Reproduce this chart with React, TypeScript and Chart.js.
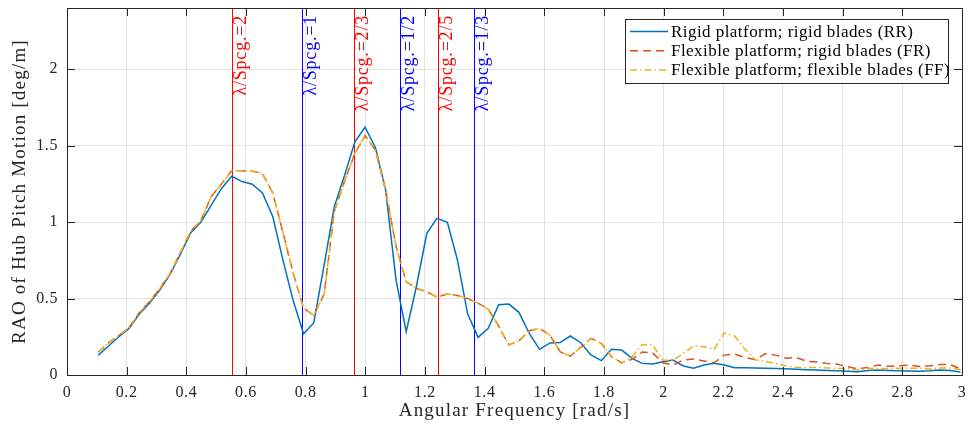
import React, { useEffect, useRef } from 'react';
import { Chart, registerables } from 'chart.js';

Chart.register(...registerables);

// Angular frequency samples [rad/s]
const freq = [
  0.105, 0.139, 0.174, 0.208, 0.243, 0.277, 0.311, 0.346, 0.380, 0.415,
  0.449, 0.483, 0.518, 0.552, 0.587, 0.621, 0.655, 0.690, 0.724, 0.759,
  0.793, 0.827, 0.862, 0.896, 0.931, 0.965, 0.999, 1.034, 1.068, 1.103,
  1.137, 1.171, 1.206, 1.240, 1.275, 1.309, 1.343, 1.378, 1.412, 1.447,
  1.481, 1.515, 1.550, 1.584, 1.619, 1.653, 1.687, 1.722, 1.756, 1.791,
  1.825, 1.859, 1.894, 1.928, 1.963, 1.997, 2.031, 2.066, 2.100, 2.135,
  2.169, 2.203, 2.238, 2.272, 2.307, 2.341, 2.375, 2.410, 2.444, 2.479,
  2.513, 2.547, 2.582, 2.616, 2.651, 2.685, 2.719, 2.754, 2.788, 2.823,
  2.857, 2.891, 2.926, 2.960, 2.995,
];

// Rigid platform; rigid blades (RR)
const raoRR = [
  0.13, 0.19, 0.25, 0.305, 0.40, 0.47, 0.555, 0.66, 0.79, 0.93,
  1.00, 1.11, 1.22, 1.30, 1.265, 1.248, 1.19, 1.035, 0.75, 0.48,
  0.27, 0.34, 0.72, 1.10, 1.31, 1.525, 1.62, 1.486, 1.21, 0.62,
  0.283, 0.577, 0.926, 1.024, 0.998, 0.75, 0.40, 0.246, 0.305, 0.46,
  0.464, 0.41, 0.27, 0.168, 0.21, 0.212, 0.255, 0.211, 0.131, 0.094,
  0.168, 0.163, 0.109, 0.076, 0.072, 0.087, 0.098, 0.059, 0.044, 0.065,
  0.076, 0.065, 0.048, 0.048, 0.046, 0.044, 0.042, 0.041, 0.038, 0.035,
  0.033, 0.030, 0.028, 0.025, 0.022, 0.030, 0.033, 0.030, 0.028, 0.026,
  0.025, 0.028, 0.033, 0.030, 0.020,
];

// Flexible platform; rigid blades (FR)
const raoFR = [
  0.15, 0.21, 0.26, 0.31, 0.41, 0.48, 0.565, 0.665, 0.80, 0.94,
  1.01, 1.165, 1.25, 1.335, 1.335, 1.333, 1.318, 1.19, 0.93, 0.66,
  0.436, 0.39, 0.53, 1.07, 1.27, 1.45, 1.565, 1.47, 1.21, 0.84,
  0.61, 0.567, 0.545, 0.51, 0.53, 0.52, 0.50, 0.47, 0.43, 0.32,
  0.196, 0.224, 0.29, 0.305, 0.26, 0.152, 0.124, 0.18, 0.24, 0.207,
  0.12, 0.08, 0.102, 0.15, 0.145, 0.08, 0.065, 0.098, 0.105, 0.092,
  0.08, 0.13, 0.137, 0.115, 0.10, 0.14, 0.13, 0.11, 0.115, 0.09,
  0.085, 0.076, 0.07, 0.055, 0.04, 0.05, 0.065, 0.058, 0.06, 0.065,
  0.055, 0.06, 0.068, 0.068, 0.04,
];

// Flexible platform; flexible blades (FF)
const raoFF = [
  0.15, 0.21, 0.26, 0.31, 0.41, 0.48, 0.565, 0.665, 0.80, 0.94,
  1.01, 1.165, 1.25, 1.335, 1.335, 1.333, 1.318, 1.19, 0.93, 0.66,
  0.436, 0.39, 0.53, 1.07, 1.27, 1.45, 1.565, 1.47, 1.21, 0.84,
  0.61, 0.567, 0.545, 0.51, 0.53, 0.52, 0.50, 0.47, 0.43, 0.32,
  0.196, 0.224, 0.29, 0.305, 0.26, 0.152, 0.124, 0.18, 0.24, 0.207,
  0.12, 0.076, 0.12, 0.20, 0.195, 0.098, 0.094, 0.142, 0.19, 0.185,
  0.168, 0.275, 0.255, 0.17, 0.10, 0.09, 0.075, 0.06, 0.05, 0.048,
  0.05, 0.046, 0.044, 0.04, 0.033, 0.044, 0.04, 0.042, 0.044, 0.044,
  0.044, 0.04, 0.045, 0.046, 0.035,
];

const seriesLabels = [
  'Rigid platform; rigid blades (RR)',
  'Flexible platform; rigid blades (FR)',
  'Flexible platform; flexible blades (FF)',
];

// Wavelength / spacing marker lines
const markerRatios = ['2', '1', '2/3', '1/2', '2/5', '1/3'];
const markerFreqs = [0.556, 0.788, 0.965, 1.113, 1.246, 1.365];
const markerColors = ['#ff0000', '#0000ff', '#ff0000', '#0000ff', '#ff0000', '#0000ff'];

const xTickValues = [0, 0.2, 0.4, 0.6, 0.8, 1, 1.2, 1.4, 1.6, 1.8, 2, 2.2, 2.4, 2.6, 2.8, 3];
const xTickLabels = ['0', '0.2', '0.4', '0.6', '0.8', '1', '1.2', '1.4', '1.6', '1.8', '2', '2.2', '2.4', '2.6', '2.8', '3'];
const yTickValues = [0, 0.5, 1, 1.5, 2];
const yTickLabels = ['0', '0.5', '1', '1.5', '2'];

const xTitle = 'Angular Frequency [rad/s]';
const yTitle = 'RAO of Hub Pitch Motion [deg/m]';

const SERIF = '"Liberation Serif", "DejaVu Serif", serif';
const AXIS = '#262626';

const colors = ['#0072BD', '#D95319', '#EDB120'];
const dashes: number[][] = [[], [8, 5], [7, 3, 1.5, 3]];
// later series drawn on top (lower order = on top in Chart.js)
const drawOrder = [2, 1, 0];

// snap a pixel position to an even column so thin coloured lines keep their hue
const evenColumn = (px: number) => 2 * Math.round(px / 2);

const matlabPlugin = {
  id: 'matlabDecor',
  beforeDraw(chart: any) {
    chart.ctx.letterSpacing = '0.6px';
  },
  beforeDatasetsDraw(chart: any) {
    const { ctx, chartArea } = chart;
    const xs = chart.scales.x;
    ctx.save();
    ctx.lineWidth = 1;
    markerFreqs.forEach((f, i) => {
      const px = evenColumn(xs.getPixelForValue(f)) + 0.5;
      ctx.strokeStyle = markerColors[i];
      ctx.beginPath();
      ctx.moveTo(px, chartArea.top);
      ctx.lineTo(px, chartArea.bottom);
      ctx.stroke();
    });
    ctx.restore();
  },
  afterDatasetsDraw(chart: any) {
    const { ctx, chartArea } = chart;
    const xs = chart.scales.x;
    const ys = chart.scales.y;
    const { left, right, top, bottom } = chartArea;
    ctx.save();

    // marker labels (rotated)
    ctx.font = `18px ${SERIF}`;
    ctx.letterSpacing = '0.8px';
    ctx.textAlign = 'right';
    ctx.textBaseline = 'alphabetic';
    markerFreqs.forEach((f, i) => {
      const px = evenColumn(xs.getPixelForValue(f));
      ctx.save();
      ctx.translate(px + 14, top + 7);
      ctx.rotate(-Math.PI / 2);
      ctx.fillStyle = markerColors[i];
      ctx.fillText(`λ/Spcg.=${markerRatios[i]}`, 0, 0);
      ctx.restore();
    });

    // axes box
    ctx.strokeStyle = AXIS;
    ctx.lineWidth = 1;
    ctx.strokeRect(Math.round(left) + 0.5, Math.round(top) + 0.5, Math.round(right - left), Math.round(bottom - top));

    // inward tick marks
    const tl = 8;
    ctx.beginPath();
    xTickValues.forEach((v) => {
      const px = Math.round(xs.getPixelForValue(v)) + 0.5;
      ctx.moveTo(px, bottom);
      ctx.lineTo(px, bottom - tl);
      ctx.moveTo(px, top);
      ctx.lineTo(px, top + tl);
    });
    yTickValues.forEach((v) => {
      const py = Math.round(ys.getPixelForValue(v)) + 0.5;
      ctx.moveTo(left, py);
      ctx.lineTo(left + tl, py);
      ctx.moveTo(right, py);
      ctx.lineTo(right - tl, py);
    });
    ctx.stroke();

    // axis titles
    ctx.fillStyle = AXIS;
    ctx.font = `19px ${SERIF}`;
    ctx.letterSpacing = '1.2px';
    ctx.textAlign = 'center';
    ctx.textBaseline = 'middle';
    ctx.fillText(xTitle, (left + right) / 2, 411);
    ctx.save();
    ctx.translate(20, (top + bottom) / 2);
    ctx.rotate(-Math.PI / 2);
    ctx.fillText(yTitle, 0, 0);
    ctx.restore();

    // legend
    const bx = 625, by = 19, bw = 323, bh = 64;
    ctx.fillStyle = '#ffffff';
    ctx.fillRect(bx, by, bw, bh);
    ctx.strokeStyle = AXIS;
    ctx.strokeRect(bx + 0.5, by + 0.5, bw, bh);
    ctx.font = `17px ${SERIF}`;
    ctx.letterSpacing = '0.45px';
    ctx.textAlign = 'left';
    ctx.textBaseline = 'middle';
    chart.data.datasets.forEach((ds: any, i: number) => {
      const ry = by + 12.5 + i * 19.2;
      ctx.save();
      ctx.strokeStyle = ds.borderColor;
      ctx.lineWidth = 1.5;
      ctx.setLineDash(ds.borderDash || []);
      ctx.beginPath();
      ctx.moveTo(bx + 5, ry);
      ctx.lineTo(bx + 43, ry);
      ctx.stroke();
      ctx.restore();
      ctx.fillStyle = '#000000';
      ctx.fillText(ds.label, bx + 46, ry + 1);
    });
    ctx.restore();
  },
};

export default function App() {
  const canvasRef = useRef<HTMLCanvasElement | null>(null);

  useEffect(() => {
    const canvas = canvasRef.current;
    if (!canvas) return;
    const seriesValues = [raoRR, raoFR, raoFF];
    const chart = new Chart(canvas, {
      type: 'line',
      data: {
        datasets: seriesValues.map((vals, i) => ({
          label: seriesLabels[i],
          data: vals.map((y, k) => ({ x: freq[k], y })),
          borderColor: colors[i],
          backgroundColor: colors[i],
          borderWidth: 1.5,
          borderDash: dashes[i],
          order: drawOrder[i],
          pointRadius: 0,
          tension: 0,
          fill: false,
        })),
      },
      options: {
        animation: false,
        responsive: false,
        devicePixelRatio: 1,
        layout: { padding: { left: 0, right: 7, top: 8, bottom: 0 } },
        plugins: {
          legend: { display: false },
          tooltip: { enabled: false },
        },
        scales: {
          x: {
            type: 'linear',
            min: 0,
            max: 3,
            afterBuildTicks: (s: any) => {
              s.ticks = xTickValues.map((v) => ({ value: v }));
            },
            afterFit: (s: any) => {
              s.height = 55;
              s.paddingLeft = 0;
              s.paddingRight = 0;
            },
            ticks: {
              callback: (_v: any, idx: number) => xTickLabels[idx],
              color: AXIS,
              font: { family: SERIF, size: 16 },
              padding: 8,
              maxRotation: 0,
              autoSkip: false,
            },
            grid: { color: '#e3e3e3', lineWidth: 1, drawTicks: false },
            border: { display: false },
          },
          y: {
            type: 'linear',
            min: 0,
            max: 2.4,
            afterBuildTicks: (s: any) => {
              s.ticks = yTickValues.map((v) => ({ value: v }));
            },
            afterFit: (s: any) => {
              s.width = 67;
              s.paddingTop = 0;
              s.paddingBottom = 0;
            },
            ticks: {
              callback: (_v: any, idx: number) => yTickLabels[idx],
              color: AXIS,
              font: { family: SERIF, size: 16 },
              padding: 9,
            },
            grid: { color: '#e3e3e3', lineWidth: 1, drawTicks: false },
            border: { display: false },
          },
        },
      },
      plugins: [matlabPlugin],
    } as any);
    return () => chart.destroy();
  }, []);

  return (
    <div style={{ position: 'fixed', left: 0, top: 0, width: 969, height: 430, background: '#ffffff' }}>
      <canvas ref={canvasRef} width={969} height={430} style={{ display: 'block' }} />
    </div>
  );
}
